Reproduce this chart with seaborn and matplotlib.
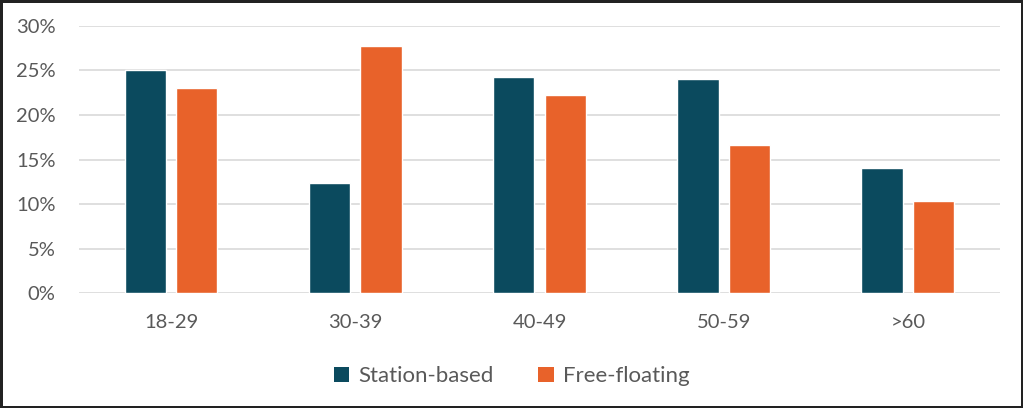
import matplotlib
matplotlib.use("Agg")
import matplotlib.pyplot as plt
import seaborn as sns
import pandas as pd
from matplotlib.ticker import PercentFormatter
from matplotlib.patches import Patch

categories = ["18-29", "30-39", "40-49", "50-59", ">60"]
station_based = [0.250, 0.124, 0.243, 0.240, 0.140]
free_floating = [0.230, 0.277, 0.222, 0.166, 0.103]
series_names = ["Station-based", "Free-floating"]
colors = ["#0B4A5E", "#E8622A"]
yticks = [0, 0.05, 0.10, 0.15, 0.20, 0.25, 0.30]

df = pd.DataFrame({
    "cat": categories * 2,
    "val": station_based + free_floating,
    "series": [series_names[0]] * len(categories) + [series_names[1]] * len(categories),
})

sns.set_theme(style="white")
plt.rcParams["font.family"] = ["Lato", "DejaVu Sans"]

fig = plt.figure(figsize=(10.23, 4.08), dpi=100)
fig.patch.set_edgecolor("#222222")
fig.patch.set_linewidth(2.5)
ax = fig.add_axes([0.0772, 0.281, 0.9003, 0.656])

sns.barplot(data=df, x="cat", y="val", hue="series", order=categories,
            hue_order=series_names, palette=colors, width=0.56, gap=0.2,
            saturation=1, ax=ax, legend=False)

ax.set_ylim(0, 0.30)
ax.set_yticks(yticks)
ax.yaxis.set_major_formatter(PercentFormatter(1.0, decimals=0))
ax.set_xlim(-0.5, len(categories) - 0.5)
ax.grid(axis="y", color="#D9D9D9", linewidth=1.2)
ax.set_axisbelow(True)
for s in ax.spines.values():
    s.set_visible(False)
ax.set_xlabel("")
ax.set_ylabel("")
ax.tick_params(axis="both", length=0, labelsize=14.5, colors="#595959")
ax.tick_params(axis="y", pad=17)
ax.tick_params(axis="x", pad=15)

handles = [Patch(facecolor=c, edgecolor="none") for c in colors]
fig.legend(handles, series_names, loc="center", bbox_to_anchor=(0.5, 0.078),
           ncol=2, frameon=False, fontsize=16, handlelength=0.7, handleheight=0.7,
           handletextpad=0.4, columnspacing=2.0, labelcolor="#595959")

fig.savefig("out.png", dpi=100)
